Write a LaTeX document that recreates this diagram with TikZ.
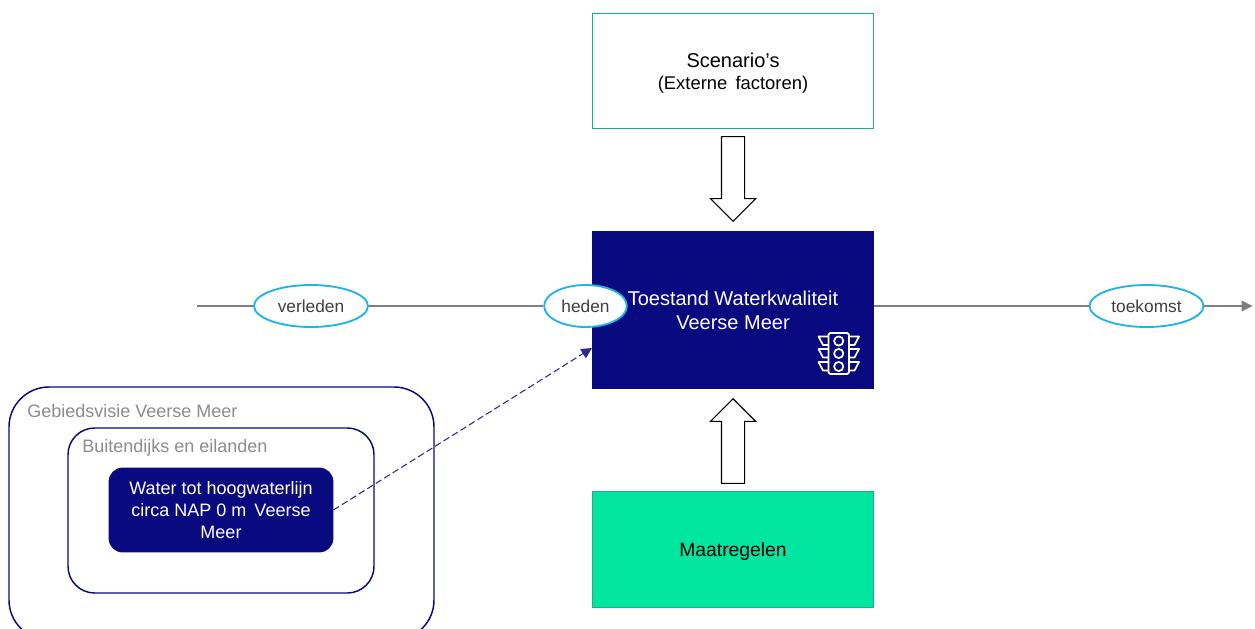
\documentclass[tikz,border=0pt]{standalone}
\usepackage{fontspec}
\setmainfont{Liberation Sans}
\usetikzlibrary{shapes.geometric,shapes.arrows,arrows.meta}
\definecolor{navy}{HTML}{0A0A80}
\definecolor{mint}{HTML}{00E6A0}
\definecolor{teal}{HTML}{1AAE8C}
\definecolor{sky}{HTML}{22B4E6}
\definecolor{timegray}{HTML}{7F7F7F}
\definecolor{labgray}{HTML}{8C8C8C}
\definecolor{dashblue}{HTML}{2E2A8E}
\tikzset{
  x=0.75pt,y=-0.75pt,
  bigbox/.style={rectangle,minimum width=211.5pt,inner sep=0pt,align=center,font=\fontsize{15}{18}\selectfont},
  phase/.style={ellipse,draw=sky,line width=1.4pt,fill=white,minimum width=85.5pt,minimum height=31.5pt,inner sep=0pt,text=black!75,font=\fontsize{13}{15}\selectfont},
  timeline/.style={draw=timegray,line width=2.2pt},
  blockarrow/.style={single arrow,draw=black,fill=white,line width=0.8pt,minimum width=33pt,minimum height=63.5pt,single arrow head extend=8.25pt,single arrow tip angle=90,single arrow head indent=0pt,inner sep=8.25pt},
  frame/.style={rectangle,draw=navy,line width=1.1pt,fill=white,inner sep=0pt},
  framelabel/.style={text=labgray,inner sep=0pt,anchor=west,font=\fontsize{13.5}{15}\selectfont},
  lamp/.style={draw=white,line width=1.3pt,line join=round},
}
\begin{document}
\begin{tikzpicture}
\clip (0,0) rectangle (1255,628);
\fill[white] (0,0) rectangle (1255,628);
% framed areas
\node[frame,rounded corners=30pt,minimum width=318.75pt,minimum height=189.75pt] (outer) at (221.5,513.5) {};
\node[frame,rounded corners=20pt,minimum width=229.5pt,minimum height=123.75pt] (middle) at (221,510.5) {};
\node[frame,rounded corners=10pt,fill=navy,minimum width=167.5pt,minimum height=62.5pt,text=white,align=center,font=\fontsize{13.5}{16.5}\selectfont] (water) at (221,510) {Water tot hoogwaterlijn\\circa NAP 0 m\, Veerse\\Meer};
\node[framelabel] (outerlabel) at (27,411) {Gebiedsvisie Veerse Meer};
\node[framelabel] (middlelabel) at (82,448) {Buitendijks en eilanden};
% main boxes
\node[bigbox,draw=teal,line width=1.1pt,fill=white,minimum width=210.5pt,minimum height=86.5pt] (scen) at (733,71) {\rule{0pt}{14pt}Scenario’s\\[-1pt]\fontsize{13.8}{18}\selectfont (Externe\, factoren)};
\node[bigbox,fill=navy,text=white,minimum height=118.5pt] (main) at (733,310) {Toestand Waterkwaliteit\\Veerse Meer};
\node[bigbox,draw=teal,line width=1.1pt,fill=mint,text=black,minimum width=210.5pt,minimum height=87pt,font=\fontsize{14.5}{18}\selectfont] (maat) at (733,549.5) {\rule{0pt}{14pt}Maatregelen};
% block arrows
\node[blockarrow,shape border rotate=270,anchor=tip] (down) at (733,222) {};
\node[blockarrow,shape border rotate=90,anchor=tip] (up) at (733,398) {};
% timeline
\node[phase] (verleden) at (311,306) {verleden};
\node[phase,minimum width=62pt] (heden) at (585.5,306) {heden};
\node[phase] (toekomst) at (1146.5,306) {toekomst};
\coordinate (tstart) at (197,306);
\coordinate (tend) at (1253,306);
\path[timeline] (tstart) -- (verleden);
\path[timeline] (verleden) -- (heden);
\path[timeline] (main.east |- tstart) -- (toekomst);
\path[timeline,-{Triangle[length=8.5pt,width=7.5pt]}] (toekomst) -- (tend);
% dashed link
\coordinate (linkend) at (592,348);
\draw[dashblue,line width=0.8pt,dash pattern=on 5pt off 2.5pt,-{Triangle[length=8pt,width=8pt]}] (water.east) -- (linkend);
% traffic light icon
\draw[lamp,rounded corners=1.2pt] (828.5,333) rectangle (849,374);
\foreach \yy in {341,353.5,366.5}{
  \draw[lamp] (838.7,\yy) circle (4.6);
  \draw[lamp] (828.5,\yy-4.5) -- (818.5,\yy-4.5) -- (823,\yy+4) -- (828.5,\yy+4);
  \draw[lamp] (849,\yy-4.5) -- (859,\yy-4.5) -- (854.5,\yy+4) -- (849,\yy+4);
}
\end{tikzpicture}
\end{document}
